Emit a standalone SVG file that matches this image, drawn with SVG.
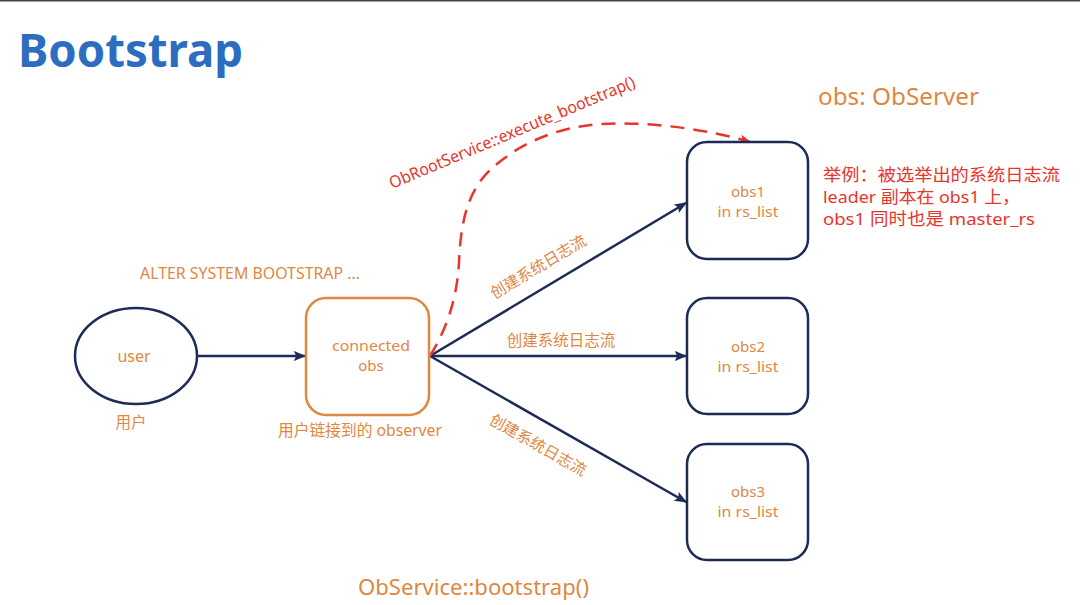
<svg xmlns="http://www.w3.org/2000/svg" width="1080" height="605" viewBox="0 0 1080 605">
<defs>
<style>
.t{font-family:"Noto Sans","Noto Sans CJK SC",sans-serif;}
.o{fill:#e0873f;}
.r{fill:#e8352b;}
.nav{fill:none;stroke:#1f2b57;stroke-width:2.5;}
.box{fill:#fff;stroke:#1f2b57;stroke-width:2.5;}
</style>
<marker id="ah" viewBox="0 0 10 10" refX="9" refY="5" markerWidth="5" markerHeight="5" orient="auto" markerUnits="strokeWidth"><path d="M0,1 L10,5 L0,9 L2,5 Z" fill="#1f2b57"/></marker>
<marker id="ahr" viewBox="0 0 10 10" refX="9" refY="5" markerWidth="4.5" markerHeight="4.5" orient="auto" markerUnits="strokeWidth"><path d="M0,1 L10,5 L0,9 L2,5 Z" fill="#e8352b"/></marker>
</defs>
<rect width="1080" height="605" fill="#fff"/>
<rect x="0" y="0" width="1080" height="1.5" fill="#444"/>
<text class="t" x="18" y="67" font-size="46" font-weight="bold" fill="#2c6dbf" textLength="225" lengthAdjust="spacingAndGlyphs">Bootstrap</text>
<g id="connectors">
<line class="nav" x1="197" y1="356" x2="305" y2="356" marker-end="url(#ah)"/>
<line class="nav" x1="430" y1="356" x2="686" y2="203" marker-end="url(#ah)"/>
<line class="nav" x1="430" y1="356" x2="686" y2="356" marker-end="url(#ah)"/>
<line class="nav" x1="430" y1="356" x2="686" y2="502" marker-end="url(#ah)"/>
<path d="M430,356 C446,330 457,300 459,262 C461,215 470,190 490,170 C515,147 550,128 600,124 C650,121 710,130 750,142" fill="none" stroke="#e8352b" stroke-width="2.5" stroke-dasharray="14 9" marker-end="url(#ahr)"/>
<text class="t o" font-size="15.5" text-anchor="middle" transform="translate(541,271.5) rotate(-30.8)">创建系统日志流</text>
<text class="t o" font-size="15.5" text-anchor="middle" x="561" y="345.5">创建系统日志流</text>
<text class="t o" font-size="15.5" text-anchor="middle" transform="translate(535.3,449.7) rotate(29.6)">创建系统日志流</text>
<text class="t r" font-size="16.5" transform="translate(392,189) rotate(-22.8)" textLength="265" lengthAdjust="spacingAndGlyphs">ObRootService::execute_bootstrap()</text>
</g>
<g id="user">
<ellipse cx="136" cy="356" rx="61" ry="48" class="box"/>
<text class="t o" font-size="16" text-anchor="middle" x="134" y="362">user</text>
<text class="t o" font-size="15.5" text-anchor="middle" x="131" y="428">用户</text>
</g>
<g id="connected-obs">
<rect x="306" y="298" width="123" height="117" rx="20" fill="#fff" stroke="#e0873f" stroke-width="2.5"/>
<text class="t o" font-size="15" text-anchor="middle" x="371" y="351" textLength="78" lengthAdjust="spacingAndGlyphs">connected</text>
<text class="t o" font-size="15" text-anchor="middle" x="371" y="371">obs</text>
<text class="t o" font-size="16" text-anchor="middle" x="360" y="436" textLength="164" lengthAdjust="spacingAndGlyphs">用户链接到的 observer</text>
<text class="t o" font-size="16" x="140" y="279" textLength="220" lengthAdjust="spacingAndGlyphs">ALTER SYSTEM BOOTSTRAP ...</text>
</g>
<g id="obs1">
<rect x="687" y="142" width="121" height="117" rx="20" class="box"/>
<text class="t o" font-size="15" text-anchor="middle" x="748" y="197">obs1</text>
<text class="t o" font-size="15" text-anchor="middle" x="748" y="217" textLength="61" lengthAdjust="spacingAndGlyphs">in rs_list</text>
</g>
<g id="obs2">
<rect x="687" y="298" width="121" height="116" rx="20" class="box"/>
<text class="t o" font-size="15" text-anchor="middle" x="748" y="352">obs2</text>
<text class="t o" font-size="15" text-anchor="middle" x="748" y="372" textLength="61" lengthAdjust="spacingAndGlyphs">in rs_list</text>
</g>
<g id="obs3">
<rect x="687" y="444" width="121" height="116" rx="20" class="box"/>
<text class="t o" font-size="15" text-anchor="middle" x="748" y="497">obs3</text>
<text class="t o" font-size="15" text-anchor="middle" x="748" y="517" textLength="61" lengthAdjust="spacingAndGlyphs">in rs_list</text>
</g>
<g id="notes">
<text class="t o" font-size="23" x="818" y="105" textLength="161" lengthAdjust="spacingAndGlyphs">obs: ObServer</text>
<text class="t r" font-size="17" x="823" y="181" textLength="237" lengthAdjust="spacingAndGlyphs">举例：被选举出的系统日志流</text>
<text class="t r" font-size="17" x="823" y="203" textLength="197" lengthAdjust="spacingAndGlyphs">leader 副本在 obs1 上，</text>
<text class="t r" font-size="17" x="823" y="225" textLength="212" lengthAdjust="spacingAndGlyphs">obs1 同时也是 master_rs</text>
<text class="t o" font-size="22" x="358" y="595" textLength="231" lengthAdjust="spacingAndGlyphs">ObService::bootstrap()</text>
</g>
</svg>
